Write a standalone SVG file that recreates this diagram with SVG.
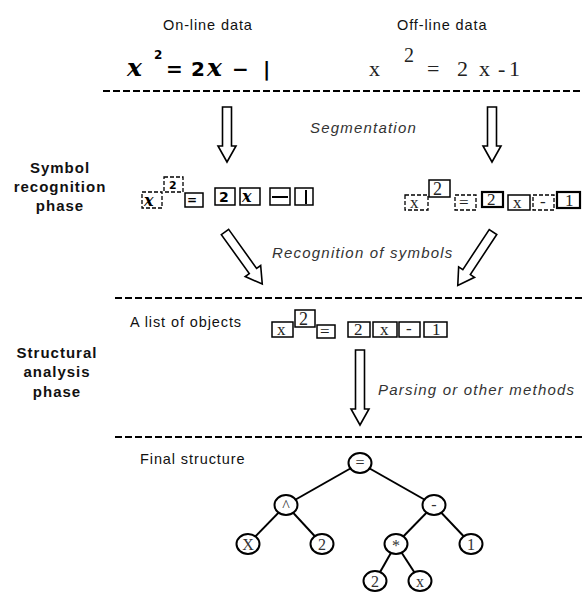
<svg xmlns="http://www.w3.org/2000/svg" xmlns:xlink="http://www.w3.org/1999/xlink" width="582" height="592" viewBox="0 0 582 592">
<style>
  .lbl{font-family:"Liberation Sans",Arial,sans-serif;font-size:14.5px;fill:#111;letter-spacing:0.9px}
  .it{font-family:"Liberation Sans",Arial,sans-serif;font-size:15px;font-style:italic;fill:#333;letter-spacing:1.2px}
  .phase{font-family:"Liberation Sans",Arial,sans-serif;font-size:15px;font-weight:bold;fill:#111;letter-spacing:1px;text-anchor:middle}
  .hw{font-family:"DejaVu Sans",sans-serif;font-weight:bold;fill:#000}
  .hx{font-family:"DejaVu Serif",serif;font-weight:bold;font-style:italic;fill:#000}
  .tm{font-family:"Liberation Serif","Times New Roman",serif;fill:#222}
  .sep{stroke:#000;stroke-width:2;stroke-dasharray:7 3}
  .box{fill:none;stroke:#000;stroke-width:1.5}
  .dbox{fill:none;stroke:#000;stroke-width:1.3;stroke-dasharray:4 2}
  .bbox{fill:none;stroke:#000;stroke-width:2.2}
  .arr{fill:#fff;stroke:#000;stroke-width:1.6;stroke-linejoin:miter}
  .edge{stroke:#000;stroke-width:2;fill:none}
  .nd{fill:#fff;stroke:#000;stroke-width:2}
  .nt{font-family:"Liberation Serif","Times New Roman",serif;font-size:16px;fill:#333;text-anchor:middle}
</style>
<defs>
  <path id="diag" d="M0,-4.5 L48,-4.5 L48,-9.5 L64,0 L48,9.5 L48,4.5 L0,4.5 Z"/>
</defs>
<rect width="582" height="592" fill="#fff"/>

<g id="headers">
  <text class="lbl" x="163" y="30">On-line data</text>
  <text class="lbl" x="397" y="30">Off-line data</text>
</g>

<g id="online-eq">
  <text class="hx" x="127" y="76" font-size="25">x</text>
  <text class="hw" x="154" y="59" font-size="12">2</text>
  <text class="hw" x="166" y="76" font-size="20">=</text>
  <text class="hw" x="191" y="76" font-size="20">2</text>
  <text class="hx" x="207" y="76" font-size="25">x</text>
  <text class="hw" x="232" y="76" font-size="20">−</text>
  <text class="hw" x="263" y="76" font-size="20" font-weight="normal">|</text>
</g>

<g id="offline-eq">
  <text class="tm" x="369" y="76" font-size="22">x</text>
  <text class="tm" x="404" y="62" font-size="20">2</text>
  <text class="tm" x="427" y="76" font-size="22">=</text>
  <text class="tm" x="457" y="76" font-size="22">2</text>
  <text class="tm" x="479" y="76" font-size="22">x</text>
  <text class="tm" x="498" y="76" font-size="22">-</text>
  <text class="tm" x="509" y="76" font-size="22">1</text>
</g>

<g id="separators">
  <line class="sep" x1="103" y1="91" x2="582" y2="91"/>
  <line class="sep" x1="115" y1="298" x2="582" y2="298"/>
  <line class="sep" x1="115" y1="437" x2="582" y2="437"/>
</g>

<g id="phase-symbol">
  <text class="phase" x="60" y="173">Symbol</text>
  <text class="phase" x="60" y="192">recognition</text>
  <text class="phase" x="60" y="211">phase</text>
</g>
<g id="phase-structural">
  <text class="phase" x="57" y="358">Structural</text>
  <text class="phase" x="57" y="377">analysis</text>
  <text class="phase" x="57" y="397">phase</text>
</g>

<g id="online-segments">
  <rect class="dbox" x="142" y="192" width="20" height="16"/>
  <text class="hx" x="144" y="206" font-size="16">x</text>
  <rect class="dbox" x="164" y="177" width="19" height="15"/>
  <text class="hw" x="169" y="189" font-size="11">2</text>
  <rect class="box" x="185" y="193" width="18" height="14"/>
  <text class="hw" x="187" y="204" font-size="12">=</text>
  <rect class="box" x="215" y="188" width="20" height="17"/>
  <text class="hw" x="219" y="202" font-size="14">2</text>
  <rect class="box" x="240" y="188" width="20" height="17"/>
  <text class="hx" x="242" y="202" font-size="16">x</text>
  <rect class="box" x="270" y="188" width="20" height="17"/>
  <line x1="272" y1="197" x2="288" y2="197" stroke="#000" stroke-width="2"/>
  <rect class="box" x="295" y="188" width="18" height="17"/>
  <line x1="306" y1="190" x2="306" y2="204" stroke="#000" stroke-width="2"/>
</g>

<g id="offline-segments">
  <rect class="dbox" x="405" y="195" width="23" height="15"/>
  <text class="tm" x="410" y="208" font-size="17">x</text>
  <rect class="box" x="429" y="180" width="21" height="17"/>
  <text class="tm" x="433" y="195" font-size="18">2</text>
  <rect class="dbox" x="455" y="195" width="21" height="15"/>
  <text class="tm" x="459" y="208" font-size="17">=</text>
  <rect class="bbox" x="482" y="192" width="21" height="15"/>
  <text class="tm" x="487" y="205" font-size="17">2</text>
  <rect class="box" x="508" y="195" width="22" height="15"/>
  <text class="tm" x="513" y="208" font-size="17">x</text>
  <rect class="dbox" x="533" y="195" width="21" height="15"/>
  <text class="tm" x="540" y="207" font-size="17">-</text>
  <rect class="bbox" x="557" y="192" width="23" height="16"/>
  <text class="tm" x="565" y="206" font-size="17">1</text>
</g>

<g id="steps">
  <text class="it" x="310" y="133">Segmentation</text>
  <text class="it" x="272" y="258">Recognition of symbols</text>
  <text class="it" x="378" y="395">Parsing or other methods</text>
</g>

<g id="list-label">
  <text class="lbl" x="130" y="327">A list of objects</text>
</g>
<g id="object-list">
  <rect class="box" x="272" y="322" width="21" height="15"/>
  <text class="tm" x="277" y="335" font-size="17">x</text>
  <rect class="box" x="295" y="310" width="20" height="17"/>
  <text class="tm" x="299" y="325" font-size="18">2</text>
  <rect class="box" x="317" y="325" width="18" height="13"/>
  <text class="tm" x="320" y="337" font-size="17">=</text>
  <rect class="box" x="348" y="322" width="22" height="15"/>
  <text class="tm" x="354" y="335" font-size="17">2</text>
  <rect class="box" x="373" y="322" width="24" height="15"/>
  <text class="tm" x="380" y="335" font-size="17">x</text>
  <rect class="box" x="399" y="322" width="21" height="15"/>
  <text class="tm" x="406" y="334" font-size="17">-</text>
  <rect class="box" x="424" y="322" width="23" height="15"/>
  <text class="tm" x="432" y="335" font-size="17">1</text>
</g>

<g id="final-label">
  <text class="lbl" x="140" y="464">Final structure</text>
</g>

<g id="connectors">
  <path class="arr" d="M222.5,107 L231.5,107 L231.5,146 L236,146 L227,162 L218,146 L222.5,146 Z"/>
  <path class="arr" stroke-width="2.2" d="M487.5,107 L496.5,107 L496.5,146 L501,146 L492,162 L483,146 L487.5,146 Z"/>
  <use href="#diag" class="arr" transform="translate(225,232) rotate(54.4)"/>
  <use href="#diag" class="arr" transform="translate(493,232) rotate(123.4)"/>
  <path class="arr" d="M355.5,350 L364.5,350 L364.5,409 L369,409 L360,425 L351,409 L355.5,409 Z"/>
  <line class="edge" x1="360" y1="463" x2="286" y2="505"/>
  <line class="edge" x1="360" y1="463" x2="434" y2="505"/>
  <line class="edge" x1="286" y1="505" x2="248" y2="544"/>
  <line class="edge" x1="286" y1="505" x2="322" y2="544"/>
  <line class="edge" x1="434" y1="505" x2="396" y2="544"/>
  <line class="edge" x1="434" y1="505" x2="471" y2="544"/>
  <line class="edge" x1="396" y1="544" x2="375" y2="581"/>
  <line class="edge" x1="396" y1="544" x2="420" y2="581"/>
</g>

<g id="n-root"><ellipse class="nd" cx="360" cy="463" rx="11.5" ry="10"/><text class="nt" x="360" y="468">=</text></g>
<g id="n-pow"><ellipse class="nd" cx="286" cy="505" rx="11.5" ry="10"/><text class="nt" x="286" y="511">^</text></g>
<g id="n-minus"><ellipse class="nd" cx="434" cy="505" rx="11.5" ry="10"/><text class="nt" x="434" y="510">-</text></g>
<g id="n-x1"><ellipse class="nd" cx="248" cy="544" rx="11.5" ry="10"/><text class="nt" x="248" y="550">X</text></g>
<g id="n-2a"><ellipse class="nd" cx="322" cy="544" rx="11.5" ry="10"/><text class="nt" x="322" y="550">2</text></g>
<g id="n-mul"><ellipse class="nd" cx="396" cy="544" rx="11.5" ry="10"/><text class="nt" x="396" y="551">*</text></g>
<g id="n-1"><ellipse class="nd" cx="471" cy="544" rx="11.5" ry="10"/><text class="nt" x="471" y="550">1</text></g>
<g id="n-2b"><ellipse class="nd" cx="375" cy="581" rx="11.5" ry="10"/><text class="nt" x="375" y="587">2</text></g>
<g id="n-x2"><ellipse class="nd" cx="420" cy="581" rx="11.5" ry="10"/><text class="nt" x="420" y="587">x</text></g>
</svg>
